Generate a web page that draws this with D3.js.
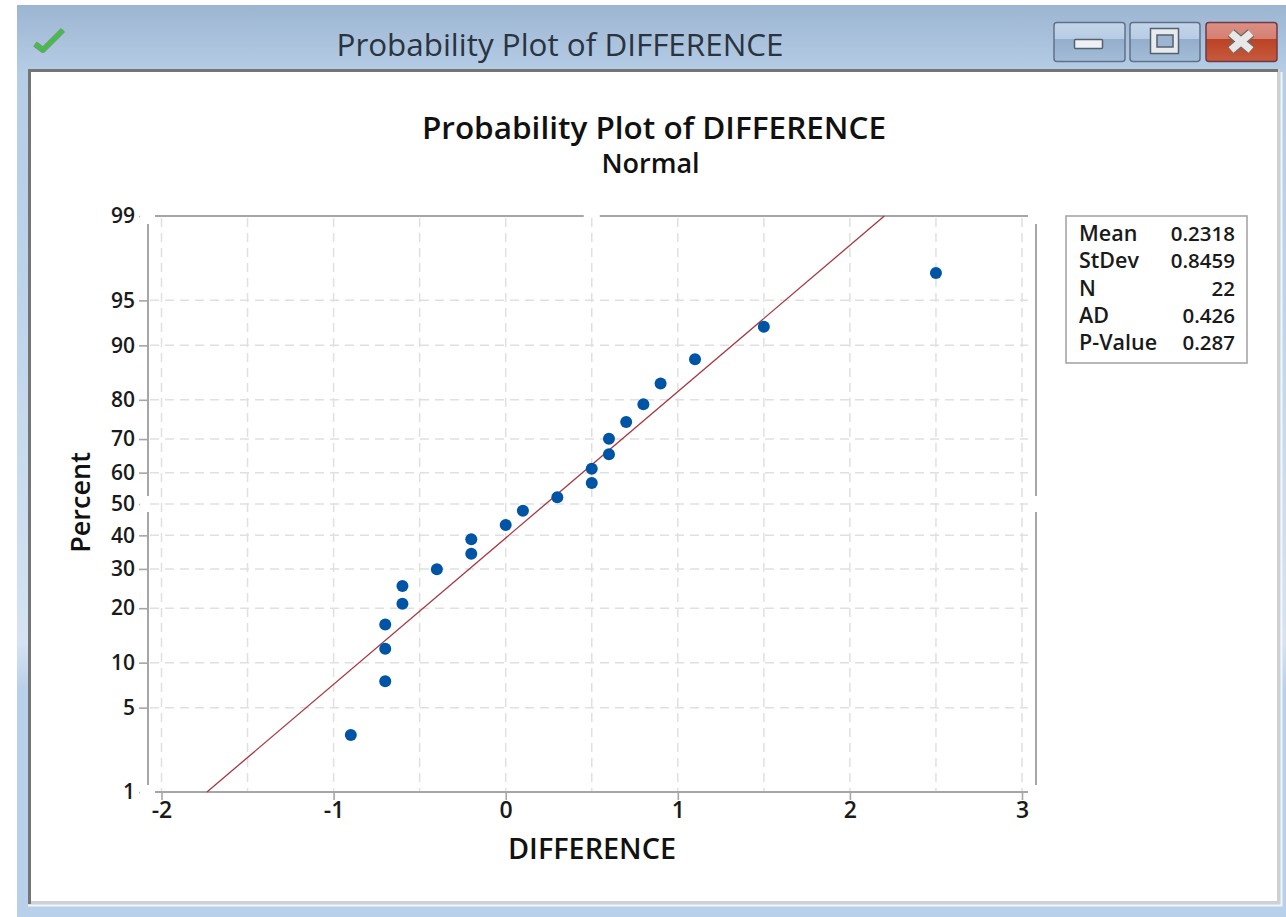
<!DOCTYPE html>
<html>
<head>
<meta charset="utf-8">
<script src="https://d3js.org/d3.v7.min.js"></script>
<style>
html, body { margin: 0; padding: 0; background: #fff; }
svg { display: block; }
text { font-family: "Open Sans", "Noto Sans", sans-serif; fill: #1a1a1a; }
.grid { stroke: #e0e0e0; stroke-width: 1.5; stroke-dasharray: 9 6; fill: none; }
.frame { stroke: #a6a6a6; stroke-width: 2; fill: none; }
</style>
</head>
<body>
<div id="chart"></div>
<script>
// differences and their plotting percentages
const diffs = [-0.9, -0.7, -0.7, -0.7, -0.6, -0.6, -0.4, -0.2, -0.2, 0, 0.1, 0.3, 0.5, 0.5, 0.6, 0.6, 0.7, 0.8, 0.9, 1.1, 1.5, 2.5];
const percents = [3.1, 7.6, 12.1, 16.5, 21, 25.4, 29.9, 34.4, 38.8, 43.3, 47.8, 52.2, 56.7, 61.2, 65.6, 70.1, 74.6, 79, 83.5, 87.9, 92.4, 96.9];

// fitted line ends
const fitX = [-1.736, 2.2];
const fitP = [1, 99];

const xTicks = [-2, -1, 0, 1, 2, 3];
const xGrid = [-2, -1.5, -1, -0.5, 0, 0.5, 1, 1.5, 2, 2.5, 3];
const yTicks = [1, 5, 10, 20, 30, 40, 50, 60, 70, 80, 90, 95, 99];
const yGrid = [5, 10, 20, 30, 40, 50, 60, 70, 80, 90, 95];

const statNames = ["Mean", "StDev", "N", "AD", "P-Value"];
const statValues = ["0.2318", "0.8459", "22", "0.426", "0.287"];

// inverse normal cdf, the plot's y axis is on this scale
function probit(pct) {
  let lo = -6, hi = 6;
  const p = pct / 100;
  const cdf = z => {
    // Zelen & Severo
    const t = 1 / (1 + 0.2316419 * Math.abs(z));
    const d = Math.exp(-z * z / 2) / Math.sqrt(2 * Math.PI);
    const q = d * t * (0.31938153 + t * (-0.356563782 + t * (1.781477937 + t * (-1.821255978 + t * 1.330274429))));
    return z > 0 ? 1 - q : q;
  };
  for (let i = 0; i < 50; i++) {
    const mid = (lo + hi) / 2;
    if (cdf(mid) < p) lo = mid; else hi = mid;
  }
  return (lo + hi) / 2;
}

const W = 1286, H = 917;
const svg = d3.select("#chart").append("svg").attr("width", W).attr("height", H);
const defs = svg.append("defs");

const bg = defs.append("linearGradient").attr("id", "winbg").attr("x1", 0).attr("x2", 0).attr("y1", 0).attr("y2", 1);
bg.append("stop").attr("offset", 0).attr("stop-color", "#9cb5d1");
bg.append("stop").attr("offset", 0.075).attr("stop-color", "#b6cde6");
bg.append("stop").attr("offset", 0.3).attr("stop-color", "#bdd3ea");
bg.append("stop").attr("offset", 0.7).attr("stop-color", "#d5e3f2");
bg.append("stop").attr("offset", 0.75).attr("stop-color", "#b9d0ea");
bg.append("stop").attr("offset", 1).attr("stop-color", "#b9d0ea");

function btnGradient(id, top, mid, low, end) {
  const g = defs.append("linearGradient").attr("id", id).attr("x1", 0).attr("x2", 0).attr("y1", 0).attr("y2", 1);
  g.append("stop").attr("offset", 0).attr("stop-color", top);
  g.append("stop").attr("offset", 0.42).attr("stop-color", mid);
  g.append("stop").attr("offset", 0.43).attr("stop-color", low);
  g.append("stop").attr("offset", 1).attr("stop-color", end);
}
btnGradient("btn", "#c3d5ea", "#b7cce4", "#94aecb", "#a3bcd8");
btnGradient("btnx", "#dc9085", "#d47f72", "#bb4324", "#c65a3e");

// window chrome
svg.append("rect").attr("x", 17).attr("y", 5).attr("width", W - 17).attr("height", H - 5).attr("fill", "url(#winbg)");
svg.append("rect").attr("x", 29.5).attr("y", 70.5).attr("width", 1249).attr("height", 832)
  .attr("fill", "#fff").attr("stroke", "#d0d0d0").attr("stroke-width", 3);
svg.append("path").attr("d", "M29.5 904V70.5H1278").attr("fill", "none").attr("stroke", "#757575").attr("stroke-width", 3);
svg.append("path").attr("d", "M1281.5 72V905.5H28").attr("fill", "none").attr("stroke", "#f2f5f9").attr("stroke-width", 2);

svg.append("path").attr("d", "M35 44L43 50L63 30").attr("fill", "none").attr("stroke", "#7d9682").attr("stroke-width", 6).attr("stroke-linejoin", "round");
svg.append("path").attr("d", "M35 44L43 50L63 30").attr("fill", "none").attr("stroke", "#3cc342").attr("stroke-width", 3.5).attr("stroke-linejoin", "round");

svg.append("text").attr("x", 560).attr("y", 56).attr("text-anchor", "middle")
  .style("font-size", "31.4px").style("fill", "#2a3440").text("Probability Plot of DIFFERENCE");

const buttons = [[1054, 71, "btn"], [1130, 70, "btn"], [1206, 71, "btnx"]];
svg.selectAll("rect.btn").data(buttons).join("rect").attr("class", "btn")
  .attr("x", d => d[0]).attr("y", 22.5).attr("width", d => d[1]).attr("height", 39).attr("rx", 3)
  .attr("fill", d => `url(#${d[2]})`).attr("stroke", (d, i) => i == 2 ? "#6e3b45" : "#62718a").attr("stroke-width", 1.5);
svg.append("rect").attr("x", 1074.5).attr("y", 39.5).attr("width", 28).attr("height", 9).attr("rx", 1)
  .attr("fill", "#eef1f4").attr("stroke", "#56606f").attr("stroke-width", 1.5);
svg.append("rect").attr("x", 1150.5).attr("y", 28.5).attr("width", 28).attr("height", 25)
  .attr("fill", "#e8ebee").attr("stroke", "#56606f").attr("stroke-width", 1.5);
svg.append("rect").attr("x", 1157).attr("y", 35).attr("width", 16).attr("height", 12)
  .attr("fill", "#9db5d1").attr("stroke", "#56606f").attr("stroke-width", 1.5);
svg.append("path").attr("d", "M1231 33L1251 50M1251 33L1231 50").attr("stroke", "#6b6b6b").attr("stroke-width", 10).attr("fill", "none");
svg.append("path").attr("d", "M1231 33L1251 50M1251 33L1231 50").attr("stroke", "#e8e8e8").attr("stroke-width", 7.5).attr("fill", "none");

// scales
const x = d3.scaleLinear().domain([-2, 3]).range([161.5, 1022]);
const y = d3.scaleLinear().domain([probit(1), probit(99)]).range([792, 216]);
const yp = p => y(probit(p));

// titles
svg.append("text").attr("x", 654).attr("y", 139).attr("text-anchor", "middle")
  .style("font-size", "31.5px").style("font-weight", 600).style("fill", "#111").text("Probability Plot of DIFFERENCE");
svg.append("text").attr("x", 650.5).attr("y", 173).attr("text-anchor", "middle")
  .style("font-size", "27px").style("font-weight", 600).style("fill", "#111").text("Normal");

// grid
const plot = svg.append("g");
plot.selectAll("line.gx").data(xGrid).join("line").attr("class", "grid gx")
  .attr("x1", d => x(d)).attr("x2", d => x(d)).attr("y1", y.range()[1] + 2).attr("y2", y.range()[0]);
plot.selectAll("line.gy").data(yGrid).join("line").attr("class", "grid gy")
  .attr("x1", 150).attr("x2", 1028).attr("y1", yp).attr("y2", yp);

// frame lines, broken at the 50 percent line and at the x centre
const gapY = yp(50), gapX = x(0.5);
const frameSegs = [
  [148, 224, 148, gapY - 8], [148, gapY + 8, 148, 785],
  [1036, 224, 1036, gapY - 8], [1036, gapY + 8, 1036, 785],
  [155, 216, gapX - 8, 216], [gapX + 8, 216, 1028, 216],
  [155, 792, 1028, 792]
];
plot.selectAll("line.frame").data(frameSegs).join("line").attr("class", "frame")
  .attr("x1", d => d[0]).attr("y1", d => d[1]).attr("x2", d => d[2]).attr("y2", d => d[3]);

// axes
const xAxis = svg.append("g").attr("transform", "translate(0,792)")
  .call(d3.axisBottom(x).tickValues(xTicks).tickSize(8).tickPadding(2).tickFormat(d3.format("d")));
const yAxis = svg.append("g").attr("transform", "translate(148,0)")
  .call(d3.axisLeft(y).tickValues(yTicks.map(probit)).tickSize(9).tickPadding(4)
    .tickFormat((d, i) => yTicks[i]));
[xAxis, yAxis].forEach(a => {
  a.select(".domain").remove();
  a.selectAll("line").attr("stroke", "#a6a6a6").attr("stroke-width", 1.6);
  a.selectAll("text").style("font-weight", 600).style("font-family", '"Open Sans", sans-serif').attr("fill", "#1a1a1a");
});
xAxis.selectAll("text").style("font-size", "23px").text(d => d3.format("d")(d).replace("−", "-"));
yAxis.selectAll("text").style("font-size", "21px");
// the end ticks of the y axis are only dots
yAxis.selectAll(".tick").filter((d, i) => [0, 6, 12].includes(i)).select("line").attr("x1", -9).attr("x2", -8);

// axis titles
svg.append("text").attr("x", 592).attr("y", 859).attr("text-anchor", "middle")
  .style("font-size", "28.8px").style("font-weight", 600).style("fill", "#111").text("DIFFERENCE");
svg.append("text").attr("transform", "translate(90,502.5) rotate(-90)").attr("text-anchor", "middle")
  .style("font-size", "27px").style("font-weight", 600).style("fill", "#111").text("Percent");

// fitted line
const fitLine = d3.line().x(d => x(d[0])).y(d => yp(d[1]));
svg.append("path").datum(d3.zip(fitX, fitP)).attr("d", fitLine)
  .attr("fill", "none").attr("stroke", "#a8353f").attr("stroke-width", 1.3);

// points
svg.selectAll("circle.pt").data(d3.zip(diffs, percents)).join("circle").attr("class", "pt")
  .attr("cx", d => x(d[0])).attr("cy", d => yp(d[1])).attr("r", 6).attr("fill", "#0054a6");

// stats box
const rowY = d3.scalePoint().domain(statNames).range([241, 350]);
svg.append("rect").attr("x", 1066).attr("y", 216).attr("width", 181).attr("height", 147)
  .attr("fill", "#fff").attr("stroke", "#a6a6a6").attr("stroke-width", 1.6);
svg.selectAll("text.sn").data(statNames).join("text").attr("class", "sn")
  .attr("x", 1079).attr("y", d => rowY(d)).style("font-size", "21.5px").style("font-weight", 600).text(d => d);
svg.selectAll("text.sv").data(statValues).join("text").attr("class", "sv")
  .attr("x", 1235).attr("y", (d, i) => rowY(statNames[i])).attr("text-anchor", "end")
  .style("font-size", "20.5px").style("font-weight", 600).text(d => d);
</script>
</body>
</html>
